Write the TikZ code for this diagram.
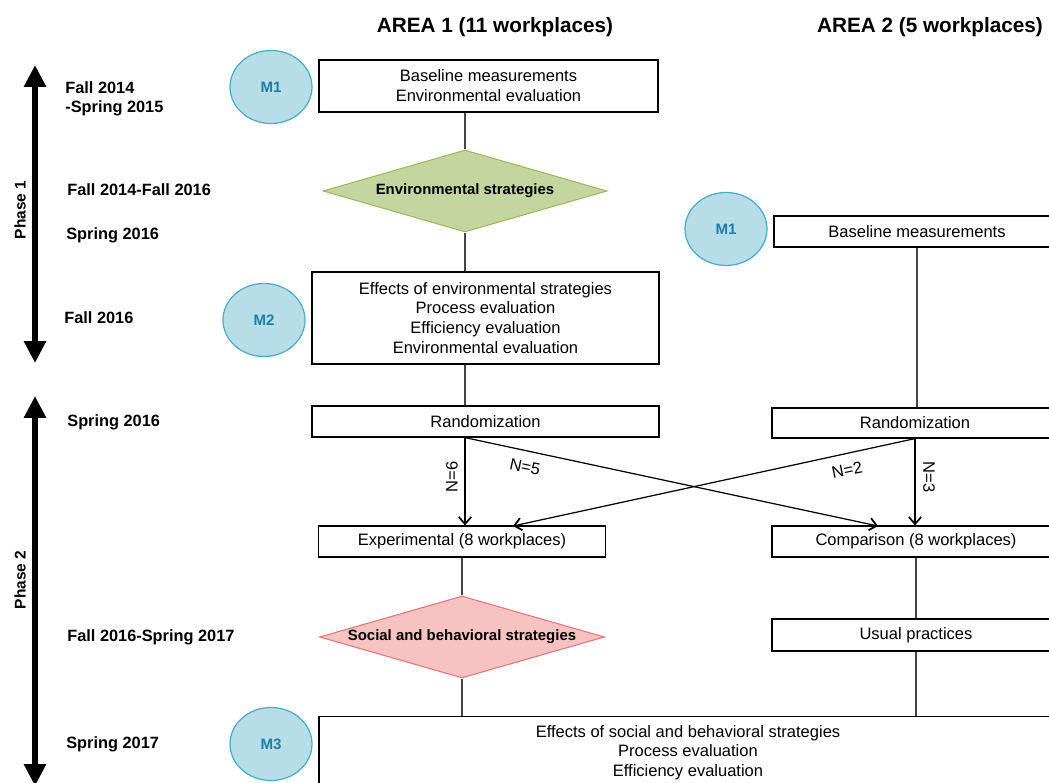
\documentclass[tikz,border=0pt]{standalone}
\usepackage{fontspec}
\setmainfont{Liberation Sans}
\usetikzlibrary{shapes.geometric, arrows.meta}

\definecolor{envgreen}{RGB}{196,214,160}
\definecolor{envgreenline}{RGB}{155,187,89}
\definecolor{socpink}{RGB}{246,194,194}
\definecolor{socpinkline}{RGB}{226,118,118}
\definecolor{mfill}{RGB}{183,222,232}
\definecolor{mline}{RGB}{75,172,198}
\definecolor{mtext}{RGB}{28,128,165}
\definecolor{linkgray}{RGB}{70,70,70}

\begin{document}
\begin{tikzpicture}[x=0.02cm, y=-0.02cm,
    box/.style={draw, line width=0.7pt, inner sep=0pt, align=center,
        font=\fontsize{9.4}{11.3}\selectfont},
    decision/.style={diamond, draw, line width=0.6pt, inner sep=0pt, aspect=3.46,
        font=\fontsize{8.5}{10}\selectfont\bfseries},
    mcircle/.style={ellipse, draw=mline, fill=mfill, line width=0.7pt,
        minimum width=1.64cm, minimum height=1.46cm, text=mtext,
        font=\fontsize{8.6}{10}\selectfont\bfseries},
    date/.style={anchor=west, align=left, inner sep=0pt,
        font=\fontsize{9.3}{10.8}\selectfont\bfseries},
    link/.style={draw=linkgray, line width=0.6pt},
    arr/.style={line width=0.7pt, -{Straight Barb[length=4pt,width=7pt,line width=1pt]}},
    nlabel/.style={font=\fontsize{9.4}{11}\selectfont, inner sep=0pt},
    phase/.style={line width=3.2pt,
        {Triangle[length=12.5pt,width=12pt]}-{Triangle[length=12.5pt,width=12pt]}}
]
    \useasboundingbox (0,0) rectangle (1049,783);
    \clip (0,0) rectangle (1049,783);

    % column titles
    \node[font=\fontsize{11.8}{14}\selectfont\bfseries] (area1) at (495,27) {AREA 1 (11 workplaces)};
    \node[font=\fontsize{11.8}{14}\selectfont\bfseries] (area2) at (930,27) {AREA 2 (5 workplaces)};

    % phase arrows on the left
    \coordinate (p1top) at (35,65);
    \coordinate (p1bot) at (35,363);
    \coordinate (p2top) at (35,396);
    \coordinate (p2bot) at (35,786);
    \draw[phase] (p1top) -- (p1bot);
    \draw[phase] (p2top) -- (p2bot);
    \node[rotate=90, font=\fontsize{8.8}{10}\selectfont\bfseries] (ph1) at (20,210) {Phase 1};
    \node[rotate=90, font=\fontsize{8.8}{10}\selectfont\bfseries] (ph2) at (20,580) {Phase 2};

    % dates
    \node[date] (d1) at (65,99) {Fall 2014\\-Spring 2015};
    \node[date] (d2) at (67,190) {Fall 2014-Fall 2016};
    \node[date] (d3) at (66,235) {Spring 2016};
    \node[date] (d4) at (64,318) {Fall 2016};
    \node[date] (d5) at (67,422) {Spring 2016};
    \node[date] (d6) at (67,637) {Fall 2016-Spring 2017};
    \node[date] (d7) at (66,744) {Spring 2017};

    % measurement times
    \node[mcircle] (m1a) at (271,87) {M1};
    \node[mcircle] (m2a) at (264,320) {M2};
    \node[mcircle] (m1b) at (726,229) {M1};
    \node[mcircle] (m3) at (271,744) {M3};

    % area 1
    \node[box, minimum width=6.78cm, minimum height=1.04cm] (base1) at (488.5,86)
        {Baseline measurements\\Environmental evaluation};
    \node[decision, fill=envgreen, draw=envgreenline, minimum width=5.68cm, minimum height=1.64cm]
        (envd) at (465,191) {Environmental strategies};
    \node[box, minimum width=6.94cm, minimum height=1.84cm] (effenv) at (485.5,318)
        {Effects of environmental strategies\\Process evaluation\\Efficiency evaluation\\Environmental evaluation};
    \node[box, minimum width=6.94cm, minimum height=0.62cm] (rand1) at (485.5,421.5) {Randomization};
    \node[box, minimum width=5.74cm, minimum height=0.62cm] (exp) at (462,541.5) {Experimental (8 workplaces)};
    \node[decision, fill=socpink, draw=socpinkline, minimum width=5.7cm, minimum height=1.64cm]
        (socd) at (462,637) {Social and behavioral strategies};

    % area 2
    \node[box, minimum width=5.72cm, minimum height=0.62cm] (base2) at (917,231.5) {Baseline measurements};
    \node[box, minimum width=5.72cm, minimum height=0.6cm] (rand2) at (915,423) {Randomization};
    \node[box, minimum width=5.76cm, minimum height=0.62cm] (cmp) at (916,541.5) {Comparison (8 workplaces)};
    \node[box, minimum width=5.76cm, minimum height=0.64cm] (usual) at (916,635) {Usual practices};

    % final measurements, both areas
    \node[box, anchor=north, minimum width=14.76cm, minimum height=1.44cm] (effsoc) at (688,716)
        {Effects of social and behavioral strategies\\Process evaluation\\Efficiency evaluation};

    % links
    \draw[link] (envd.north |- base1.south) -- (envd.north);
    \draw[link] (envd.south) -- (envd.south |- effenv.north);
    \draw[link] (envd.south |- effenv.south) -- (envd.south |- rand1.north);
    \draw[link] (exp.south) -- (socd.north);
    \draw[link] (socd.south) -- (socd.south |- effsoc.north);
    \draw[link] (base2.south) -- (base2.south |- rand2.north);
    \draw[link] (cmp.south) -- (usual.north);
    \draw[link] (usual.south) -- (usual.south |- effsoc.north);

    % randomization arrows
    \coordinate (cmpin) at (878,526);
    \coordinate (expin) at (513,526);
    \draw[arr] (envd.south |- rand1.south) -- (envd.south |- exp.north);
    \draw[arr] (envd.south |- rand1.south) -- (cmpin);
    \draw[arr] (rand2.south) -- (rand2.south |- cmp.north);
    \draw[arr] (rand2.south) -- (expin);
    \node[nlabel, rotate=90] (n6) at (452,477) {N=6};
    \node[nlabel, rotate=-12] (n5) at (525,467) {N=5};
    \node[nlabel, rotate=12] (n2) at (847,470) {N=2};
    \node[nlabel, rotate=-90] (n3) at (929,477) {N=3};
\end{tikzpicture}
\end{document}
